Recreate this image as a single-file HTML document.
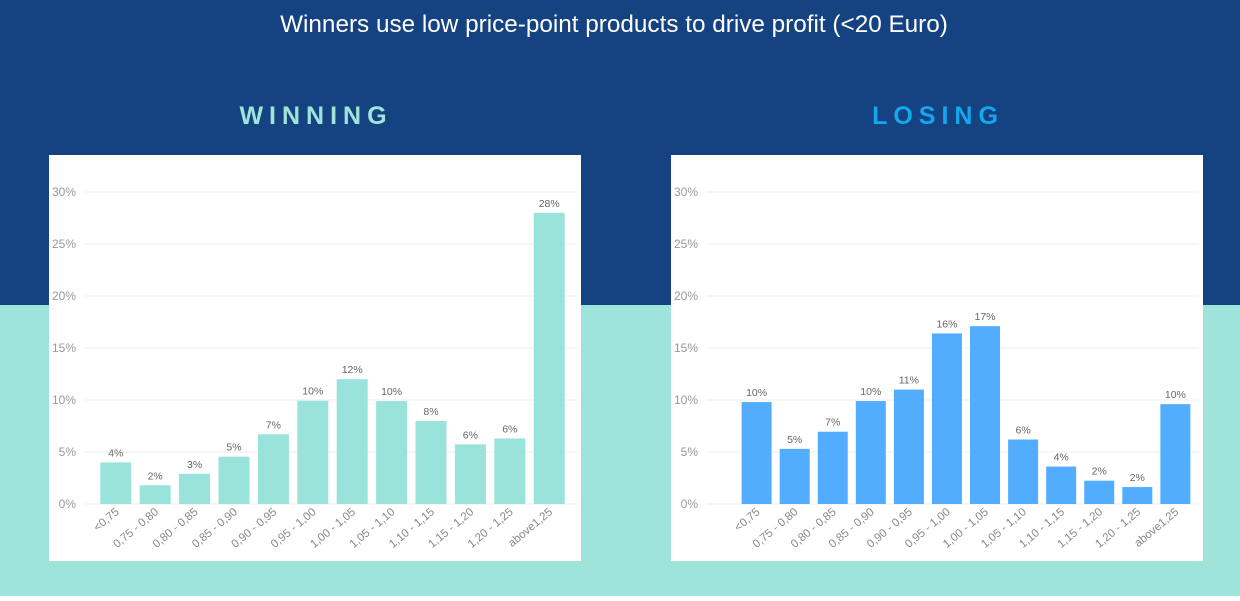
<!DOCTYPE html>
<html><head><meta charset="utf-8"><style>
body{margin:0;width:1240px;height:596px;overflow:hidden;font-family:"Liberation Sans",sans-serif}
</style></head><body>
<svg id="s" width="1240" height="596" xmlns="http://www.w3.org/2000/svg">
<rect x="0" y="0" width="1240" height="305" fill="#154281"/>
<rect x="0" y="305" width="1240" height="291" fill="#9ee4da"/>
<text x="614" y="32" text-anchor="middle" fill="#fff" font-size="24.3">Winners use low price-point products to drive profit (&lt;20 Euro)</text>
<text x="316" y="124" text-anchor="middle" fill="#9ee4da" font-size="25" font-weight="bold" letter-spacing="6">WINNING</text>
<text x="938" y="124" text-anchor="middle" fill="#13a7ee" font-size="25" font-weight="bold" letter-spacing="6">LOSING</text>
</svg>
<script>
const categories=["<0,75","0,75 - 0,80","0,80 - 0,85","0,85 - 0,90","0,90 - 0,95","0,95 - 1,00","1,00 - 1,05","1,05 - 1,10","1,10 - 1,15","1,15 - 1,20","1,20 - 1,25","above1,25"];
const winningValues=[4.0,1.8,2.9,4.55,6.7,9.93,12.0,9.9,7.98,5.74,6.3,28.0];
const losingValues=[9.8,5.3,6.95,9.9,11.0,16.4,17.1,6.2,3.6,2.24,1.63,9.6];
const yTicks=[0,5,10,15,20,25,30];
const NS="http://www.w3.org/2000/svg";
const svg=document.getElementById('s');
function mk(t,a,p){const e=document.createElementNS(NS,t);for(const k in a)e.setAttribute(k,a[k]);(p||svg).appendChild(e);return e;}
function chart(name,cardX,firstBar,pitch,bw,vals,color){
  const g=mk('g',{});
  
  
  const card=mk('rect',{x:cardX,y:155,width:532,height:406,fill:'#fff'},g);
  
  
  const y=v=>504-v*10.4;
  const x=i=>firstBar+i*pitch;
  yTicks.forEach(t=>{
    const l=mk('line',{x1:cardX+36,x2:cardX+528,y1:y(t),y2:y(t),stroke:'#eeeeee','stroke-width':1},g);
    
    
    const tx=mk('text',{x:cardX+27,y:y(t)+4,'text-anchor':'end','font-size':12,fill:'#999'},g);
    tx.textContent=t+'%';
    
    
  });
  vals.forEach((v,i)=>{
    const b=mk('rect',{x:x(i),y:y(v),width:bw,height:504-y(v),fill:color},g);
    
    
    const lb=mk('text',{x:x(i)+bw/2,y:y(v)-6,'text-anchor':'middle','font-size':10.5,fill:'#666'},g);
    lb.textContent=Math.round(v)+'%';
    
    
    const cx=x(i)+bw/2+4,cy=513;
    const xl=mk('text',{x:cx,y:cy,'text-anchor':'end','font-size':11.5,fill:'#888',transform:`rotate(-40 ${cx} ${cy})`},g);
    xl.textContent=categories[i];
    
    
  });
}
chart('winning-chart',49,100.3,39.4,31,winningValues,'#99e3db');
chart('losing-chart',671,741.6,38.07,30,losingValues,'#52adff');
</script>
</body></html>
